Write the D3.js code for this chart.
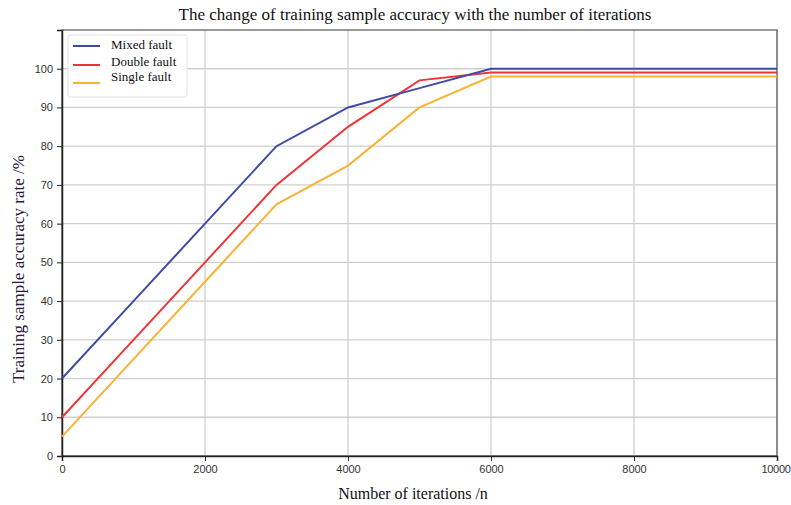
<!DOCTYPE html>
<html>
<head>
<meta charset="utf-8">
<script src="https://cdn.jsdelivr.net/npm/d3@7"></script>
<style>
  body { margin: 0; background: #fff; }
  .tick text { font-family: "Liberation Sans", Arial, sans-serif; font-size: 11px; fill: #333; }
</style>
</head>
<body>
<div id="chart"></div>
<script>
var iterations = [0, 1000, 2000, 3000, 4000, 5000, 6000, 7000, 8000, 9000, 10000]
var mixedFault = [20, 40, 60, 80, 90, 95, 100, 100, 100, 100, 100]
var doubleFault = [10, 30, 50, 70, 85, 97, 99, 99, 99, 99, 99]
var singleFault = [5, 25, 45, 65, 75, 90, 98, 98, 98, 98, 98]
var seriesNames = ['Mixed fault', 'Double fault', 'Single fault']
var xTicks = [0, 2000, 4000, 6000, 8000, 10000]
var yTicks = [0, 10, 20, 30, 40, 50, 60, 70, 80, 90, 100]

var width = 791
var height = 505
var margin = { top: 30, right: 14, bottom: 49, left: 62 }
var colors = ['#3f4ca6', '#ef3438', '#f7b334']
var serif = '"Liberation Serif", "Times New Roman", serif'

var svg = d3.select('#chart').append('svg')
    .attr('width', width)
    .attr('height', height)

var x = d3.scaleLinear().domain([0, 10000]).range([margin.left, width - margin.right])
var y = d3.scaleLinear().domain([0, 110]).range([height - margin.bottom, margin.top])

// grid
svg.append('g')
    .selectAll('line')
    .data(xTicks)
    .join('line')
    .attr('x1', d => x(d)).attr('x2', d => x(d))
    .attr('y1', margin.top).attr('y2', height - margin.bottom)
    .attr('stroke', '#cfcfcf')
    .attr('stroke-width', 1.3)

svg.append('g')
    .selectAll('line')
    .data(yTicks)
    .join('line')
    .attr('x1', margin.left).attr('x2', width - margin.right)
    .attr('y1', d => y(d)).attr('y2', d => y(d))
    .attr('stroke', '#cfcfcf')
    .attr('stroke-width', 1.3)

// frame top/right
svg.append('rect')
    .attr('x', margin.left)
    .attr('y', margin.top)
    .attr('width', width - margin.right - margin.left)
    .attr('height', height - margin.bottom - margin.top)
    .attr('fill', 'none')
    .attr('stroke', '#555')
    .attr('stroke-width', 1.2)

var xAxis = svg.append('g')
    .attr('transform', 'translate(0,' + (height - margin.bottom) + ')')
    .call(d3.axisBottom(x).tickValues(xTicks).tickFormat(d3.format('d')).tickSize(5).tickPadding(4))
xAxis.select('.domain').attr('stroke', '#222').attr('stroke-width', 1.5)
xAxis.selectAll('.tick line').attr('stroke', '#222')
// last label sits right at the edge, nudge it in a bit
xAxis.selectAll('.tick text').filter(d => d == 10000).attr('dx', '-1.5px').attr('letter-spacing', '-0.3px')

var yAxis = svg.append('g')
    .attr('transform', 'translate(' + margin.left + ',0)')
    .call(d3.axisLeft(y).tickValues(yTicks).tickSize(5).tickPadding(4))
yAxis.select('.domain').attr('stroke', '#222').attr('stroke-width', 1.5)
yAxis.selectAll('.tick line').attr('stroke', '#222')

// lines
var allSeries = [mixedFault, doubleFault, singleFault]
var line = d3.line()
    .x((d, i) => x(iterations[i]))
    .y(d => y(d))

// draw single first so mixed sits on top
for (let i = allSeries.length - 1; i >= 0; i--) {
    svg.append('path')
        .datum(allSeries[i])
        .attr('fill', 'none')
        .attr('stroke', colors[i])
        .attr('stroke-width', 2)
        .attr('d', line)
}

// title + labels
svg.append('text')
    .attr('x', 415)
    .attr('y', 20)
    .attr('text-anchor', 'middle')
    .attr('font-family', serif)
    .attr('font-size', '17px')
    .attr('fill', '#111')
    .text('The change of training sample accuracy with the number of iterations')

svg.append('text')
    .attr('x', 413)
    .attr('y', 499)
    .attr('text-anchor', 'middle')
    .attr('font-family', serif)
    .attr('font-size', '16px')
    .attr('fill', '#111')
    .text('Number of iterations /n')

svg.append('text')
    .attr('transform', 'translate(24,269) rotate(-90)')
    .attr('text-anchor', 'middle')
    .attr('font-family', serif)
    .attr('font-size', '17px')
    .attr('fill', '#2a1640')
    .text('Training sample accuracy rate /%')

// legend
var legend = svg.append('g')
legend.append('rect')
    .attr('x', 68).attr('y', 35)
    .attr('width', 119).attr('height', 62)
    .attr('rx', 2)
    .attr('fill', '#fff')
    .attr('fill-opacity', 0.9)
    .attr('stroke', '#e2e2e2')

var legendLineY = [46, 65, 83]
var legendTextY = [49, 66, 81]
for (let i = 0; i < seriesNames.length; i++) {
    legend.append('line')
        .attr('x1', 73).attr('x2', 100)
        .attr('y1', legendLineY[i]).attr('y2', legendLineY[i])
        .attr('stroke', colors[i])
        .attr('stroke-width', 2)
    legend.append('text')
        .attr('x', 111)
        .attr('y', legendTextY[i])
        .attr('font-family', serif)
        .attr('font-size', '13px')
        .attr('fill', '#111')
        .text(seriesNames[i])
}
</script>
</body>
</html>
